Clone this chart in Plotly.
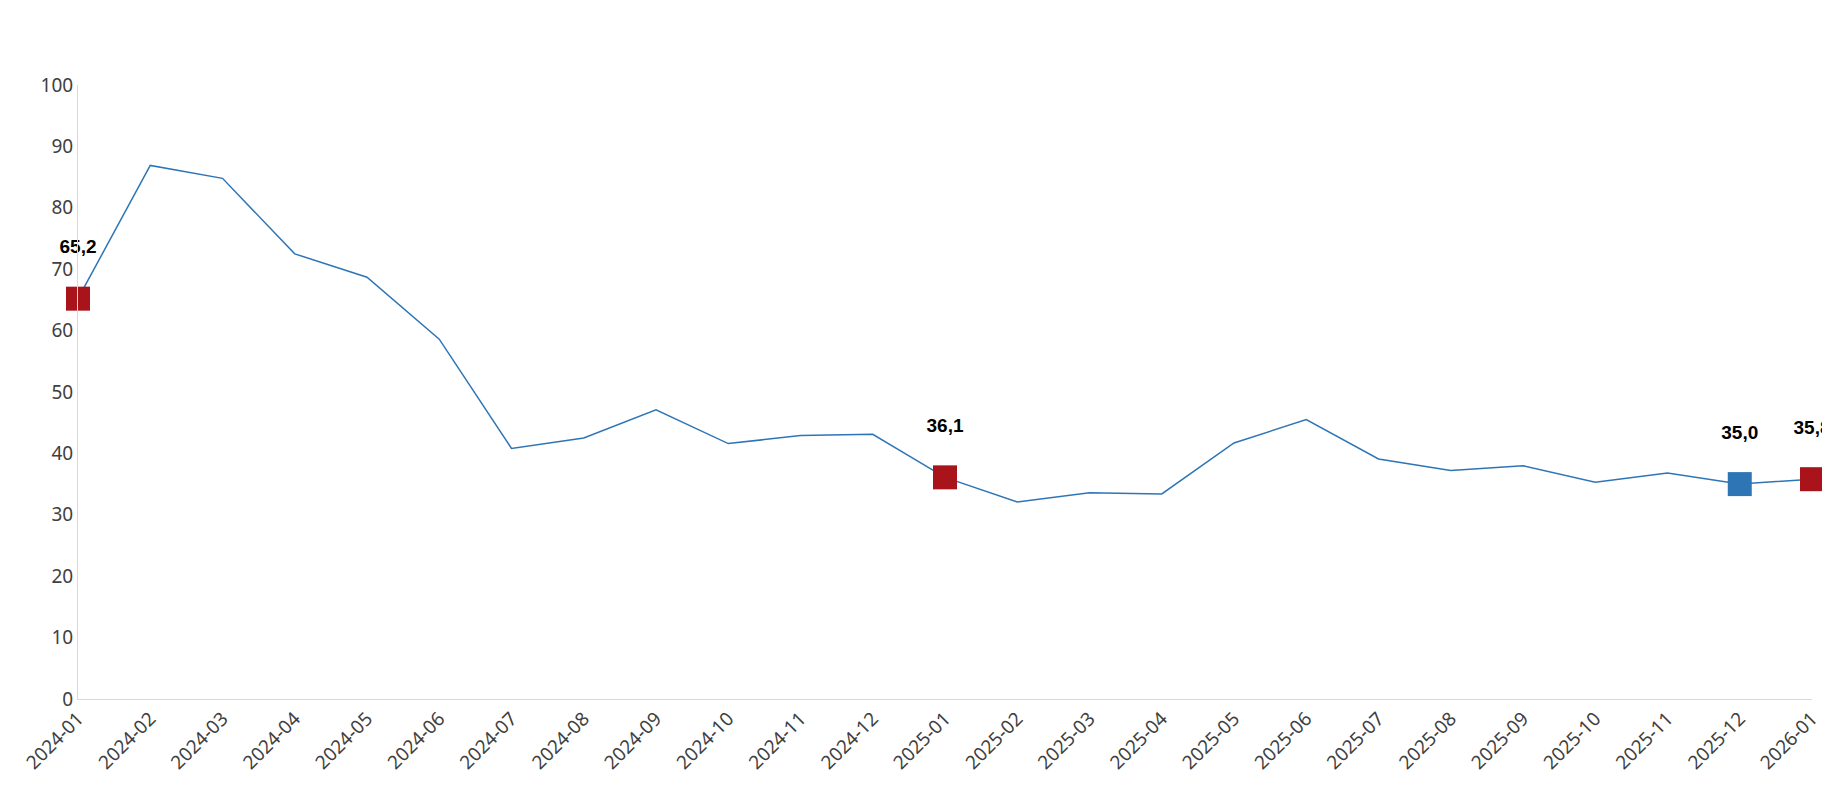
import plotly.graph_objects as go

months = ["2024-01","2024-02","2024-03","2024-04","2024-05","2024-06","2024-07","2024-08","2024-09","2024-10","2024-11","2024-12",
          "2025-01","2025-02","2025-03","2025-04","2025-05","2025-06","2025-07","2025-08","2025-09","2025-10","2025-11","2025-12","2026-01"]
values = [65.2,86.9,84.8,72.5,68.7,58.6,40.8,42.5,47.1,41.6,42.9,43.1,
          36.1,32.1,33.6,33.4,41.7,45.5,39.1,37.2,38.0,35.3,36.8,35.0,35.8]
red_points = ["2024-01","2025-01","2026-01"]
blue_points = ["2025-12"]

def lab(v):
    return f"{v:.1f}".replace(".", ",")

fig = go.Figure()
fig.add_trace(go.Scatter(x=months, y=values, mode="lines", line=dict(color="#2E75B6", width=1.5),
                         showlegend=False, cliponaxis=False))
for pts, col in [(red_points, "#A9141B"), (blue_points, "#2E75B6")]:
    ys = [values[months.index(m)] for m in pts]
    fig.add_trace(go.Scatter(x=pts, y=ys, mode="markers+text", marker=dict(symbol="square", size=24, color=col),
                             text=[lab(v) for v in ys], texttemplate="%{text}<br> ", textposition="top center",
                             textfont=dict(family="Liberation Sans Narrow, Arial Narrow, Liberation Sans", size=19, color="black", weight="bold"),
                             showlegend=False, cliponaxis=False))
fig.update_layout(
    width=1830, height=800, plot_bgcolor="white", paper_bgcolor="white",
    margin=dict(l=70, r=26, t=77, b=109),
    font=dict(family="Noto Sans, Open Sans", size=19, color="#404040"),
    xaxis=dict(type="category", tickangle=-45, showgrid=False, showline=True, linecolor="#D9D9D9",
               range=[0, 24], ticks="", tickfont=dict(size=19)),
    yaxis=dict(range=[0, 100], dtick=10, showgrid=False, showline=True, linecolor="#D9D9D9", zeroline=False,
               ticks="", tickfont=dict(size=19)),
)
fig.write_html("out.html")
